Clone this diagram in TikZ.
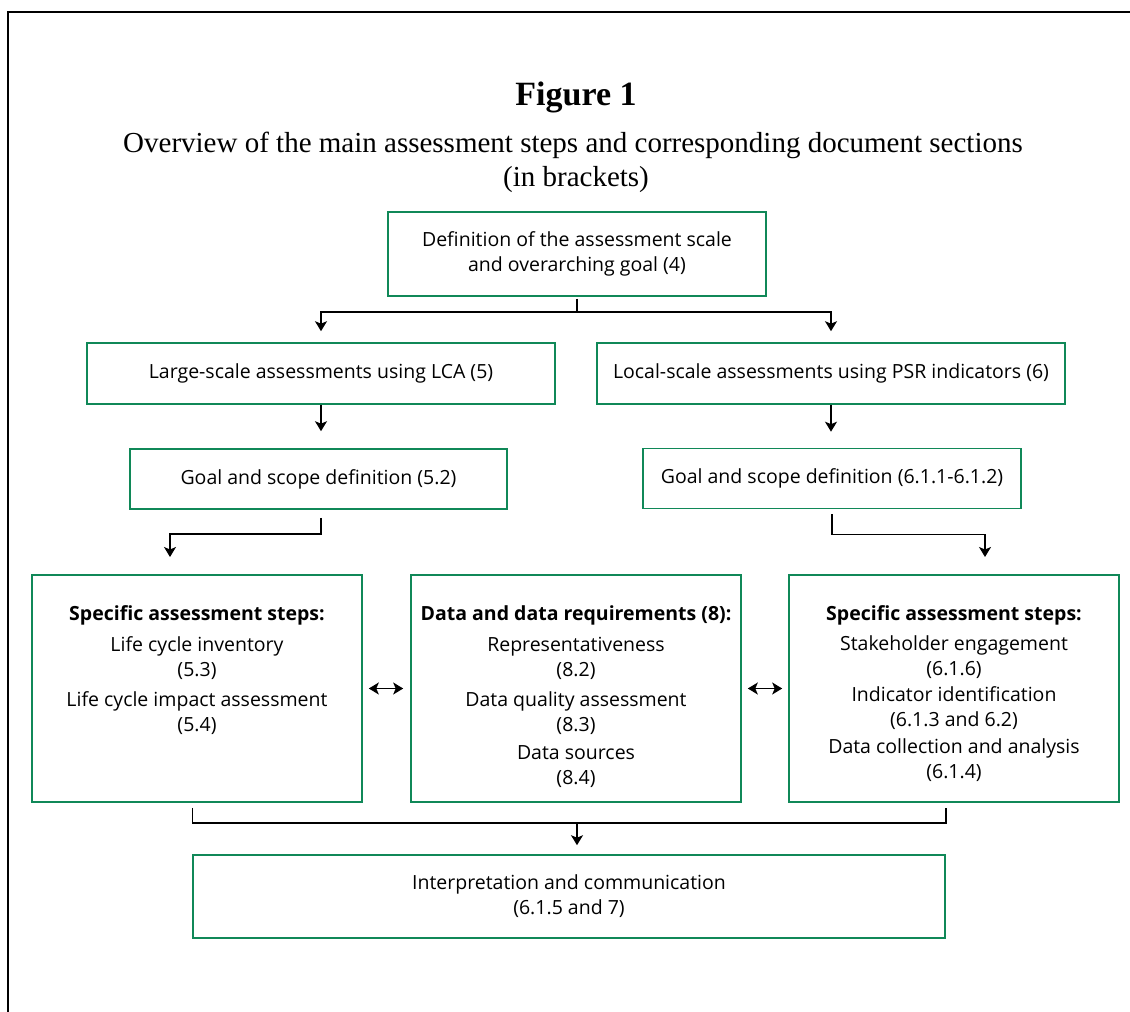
\documentclass[tikz,border=0pt]{standalone}
\usepackage{fontspec}
\setmainfont{Open Sans}
\newfontfamily\ttlfont{Liberation Serif}
\usetikzlibrary{arrows.meta,calc}
\definecolor{boxgreen}{RGB}{16,136,88}
\newcommand\bxfont{\fontsize{19.5}{25}\selectfont}
\begin{document}
\begin{tikzpicture}[x=1pt,y=-1pt,
  box/.style={draw=boxgreen, line width=1.6pt, rectangle, inner sep=0pt, align=center, font=\bxfont},
  conn/.style={draw=black, line width=1.4pt},
  arr/.style={conn, -{Stealth[length=10pt,width=12pt,inset=2.5pt]}},
  darr/.style={conn, {Stealth[length=10pt,width=12pt,inset=2.5pt]}-{Stealth[length=10pt,width=12pt,inset=2.5pt]}},
  inner/.style={align=center, font=\bxfont, inner sep=0pt, anchor=north}]
\useasboundingbox (0,0) rectangle (1130,1012);
% frame
\draw[line width=1.6pt] (1130,12) -- (8,12) -- (8,1012);
% title
\node[font={\ttlfont\bfseries\fontsize{34}{36}\selectfont}, anchor=base, inner sep=0pt] (fig) at (576,105) {Figure 1};
\node[font={\ttlfont\fontsize{29}{34}\selectfont}, anchor=base, inner sep=0pt, align=center] (sub) at (573,152) {Overview of the main assessment steps and corresponding document sections};
\node[font={\ttlfont\fontsize{29}{34}\selectfont}, anchor=base, inner sep=0pt] (sub2) at (576,186) {(in brackets)};
% boxes
\node[box, minimum width=378pt, minimum height=84pt] (top) at (577,254) {Definition of the assessment scale\\ and overarching goal (4)};
\node[box, minimum width=468pt, minimum height=61pt] (b2l) at (321,373.5) {Large-scale assessments using LCA (5)};
\node[box, minimum width=468pt, minimum height=61pt] (b2r) at (831,373.5) {Local-scale assessments using PSR indicators (6)};
\node[box, minimum width=377pt, minimum height=60pt] (b3l) at (318.5,479) {Goal and scope definition (5.2)};
\node[box, minimum width=378pt, minimum height=60pt] (b3r) at (832,478.5) {Goal and scope definition (6.1.1-6.1.2)};
\node[box, minimum width=330pt, minimum height=227pt] (bigl) at (197,688.5) {};
\node[box, minimum width=330pt, minimum height=227pt] (bigm) at (576,688.5) {};
\node[box, minimum width=330pt, minimum height=227pt] (bigr) at (954,688.5) {};
\node[box, minimum width=752pt, minimum height=83pt] (bot) at (569,896.5) {Interpretation and communication\\ (6.1.5 and 7)};
% texts in big boxes
\node[inner] (tl) at (197,605) {\textbf{Specific assessment steps:}\\[6pt] Life cycle inventory\\ (5.3)\\[5pt] Life cycle impact assessment\\ (5.4)};
\node[inner] (tm) at (576,605) {\textbf{Data and data requirements (8):}\\[6pt] Representativeness\\ (8.2)\\[5pt] Data quality assessment\\ (8.3)\\[3pt] Data sources\\ (8.4)};
\node[inner] (tr) at (954,605) {\textbf{Specific assessment steps:}\\[5pt] Stakeholder engagement\\ (6.1.6)\\[1pt] Indicator identification\\ (6.1.3 and 6.2)\\[2pt] Data collection and analysis\\ (6.1.4)};
% connectors
\draw[arr, shorten <=2pt, shorten >=11pt] (top.south) -- ++(0,15) -| (b2l.north);
\draw[arr, shorten <=2pt, shorten >=11pt] (top.south) -- ++(0,15) -| (b2r.north);
\draw[arr, shorten >=17pt] (b2l.south) -- (b2l.south |- b3l.north);
\draw[arr, shorten >=16pt] (b2r.south) -- (b2r.south |- b3r.north);
\coordinate (al) at (170,575);
\coordinate (ar) at (985,575);
\draw[arr, shorten <=8pt, shorten >=18pt] (b2l.south |- b3l.south) -- ++(0,24) -| (al);
\draw[arr, shorten <=5pt, shorten >=18pt] (b3r.south) -- ++(0,25) -| (ar);
\draw[darr, shorten <=6pt, shorten >=7pt] (bigl) -- (bigm);
\draw[darr, shorten <=6pt, shorten >=6pt] (bigm) -- (bigr);
\draw[conn, shorten <=5pt, shorten >=5pt] (bot.west |- bigl.south) -- ++(0,20) -| (bot.east |- bigr.south);
\coordinate (jn) at (577,822);
\draw[arr, shorten >=9pt] (jn) -- (jn |- bot.north);
\end{tikzpicture}
\end{document}
